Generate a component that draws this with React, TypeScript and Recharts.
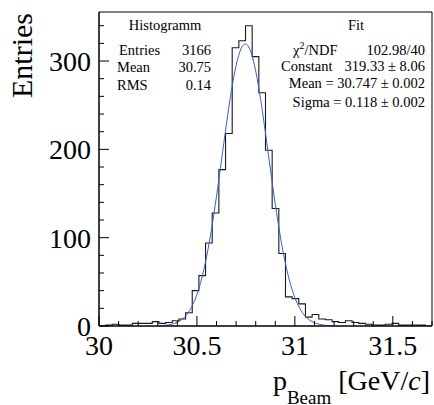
import React from 'react';
import { ComposedChart, Line, XAxis, YAxis, ReferenceArea } from 'recharts';

// histogram: 50 bins of 0.034 GeV/c from 30.0 to 31.7
const binLow = 30;
const binWidth = 0.034;
const binCounts = [
  0, 1, 2, 1, 1, 3, 3, 3, 5, 3,
  4, 6, 8, 15, 40, 57, 94, 128, 177, 218,
  315, 323, 340, 305, 264, 199, 133, 82, 33, 31,
  25, 10, 13, 8, 7, 5, 4, 6, 4, 3,
  2, 1, 1, 2, 3, 1, 1, 1, 1, 0,
];

// gaussian fit curve
const fitX = [
  30.3, 30.325, 30.35, 30.375, 30.4, 30.425, 30.45, 30.475, 30.5, 30.525,
  30.55, 30.575, 30.6, 30.625, 30.65, 30.675, 30.7, 30.725, 30.747, 30.775,
  30.8, 30.825, 30.85, 30.875, 30.9, 30.925, 30.95, 30.975, 31.0, 31.025,
  31.05, 31.075, 31.1, 31.125, 31.15, 31.175, 31.2,
];
const fitY = [
  0.2, 0.5, 1.1, 2.2, 4.2, 7.7, 13.4, 22.4, 35.7, 54.4,
  79.3, 110.4, 147.0, 187.1, 227.8, 265.1, 295.0, 313.8, 319.3, 310.5,
  288.7, 256.6, 218.2, 177.3, 137.8, 102.4, 72.7, 49.4, 32.1, 19.9,
  11.8, 6.7, 3.6, 1.9, 0.9, 0.4, 0.2,
];

const xTicks = [30, 30.1, 30.2, 30.3, 30.4, 30.5, 30.6, 30.7, 30.8, 30.9, 31, 31.1, 31.2, 31.3, 31.4, 31.5, 31.6, 31.7];
const xTickLabels = ['30', '', '', '', '', '30.5', '', '', '', '', '31', '', '', '', '', '31.5', '', ''];
const yTicks = [0, 20, 40, 60, 80, 100, 120, 140, 160, 180, 200, 220, 240, 260, 280, 300, 320, 340];
const yTickLabels = ['0', '', '', '', '', '100', '', '', '', '', '200', '', '', '', '', '300', '', ''];

const xMin = 30;
const xMax = 31.7;
const yMax = 355.5;

const statsLeft = [
  { label: 'Entries', value: '3166' },
  { label: 'Mean', value: '30.75' },
  { label: 'RMS', value: '0.14' },
];

const serif = '"Liberation Serif", "DejaVu Serif", serif';

const histData = binCounts
  .map((n, i) => ({ x: Math.round((binLow + i * binWidth) * 1000) / 1000, n }))
  .concat([{ x: xMax, n: binCounts[binCounts.length - 1] }]);
const fitData = fitX.map((x, i) => ({ x, y: fitY[i] }));

const findIdx = (arr: number[], v: number) => arr.findIndex((t) => Math.abs(t - v) < 1e-6);

const XTick = (props: any) => {
  const { x, y, payload } = props;
  const label = xTickLabels[findIdx(xTicks, payload.value)] || '';
  const major = label !== '';
  return (
    <g>
      <line x1={x} y1={y} x2={x} y2={y - (major ? 10 : 5)} stroke="#000" strokeWidth={1} />
      {major && (
        <text x={x} y={y + 29} textAnchor="middle" fontFamily={serif} fontSize={28} fill="#000">
          {label}
        </text>
      )}
    </g>
  );
};

const YTick = (props: any) => {
  const { x, y, payload } = props;
  const label = yTickLabels[findIdx(yTicks, payload.value)] || '';
  const major = label !== '';
  return (
    <g>
      <line x1={x} y1={y} x2={x + (major ? 10 : 5)} y2={y} stroke="#000" strokeWidth={1} />
      {major && (
        <text x={x - 8} y={y + 10} textAnchor="end" fontFamily={serif} fontSize={28} fill="#000">
          {label}
        </text>
      )}
    </g>
  );
};

export default function App() {
  return (
    <div style={{ position: 'absolute', left: 0, top: 0, width: 434, height: 405, background: '#fff' }}>
      <ComposedChart width={434} height={405} margin={{ top: 12, right: 2, left: 0, bottom: 0 }}>
        <XAxis
          type="number"
          dataKey="x"
          domain={[xMin, xMax]}
          ticks={xTicks}
          interval={0}
          allowDataOverflow
          height={79}
          tickSize={0}
          tickMargin={0}
          tickLine={false}
          axisLine={{ stroke: '#000' }}
          tick={<XTick />}
        />
        <YAxis
          type="number"
          domain={[0, yMax]}
          ticks={yTicks}
          interval={0}
          allowDataOverflow
          width={99}
          tickSize={0}
          tickMargin={0}
          tickLine={false}
          axisLine={{ stroke: '#000' }}
          tick={<YTick />}
        />
        <ReferenceArea x1={xMin} x2={xMax} y1={0} y2={yMax} fill="none" stroke="#000" strokeWidth={1} />
        <Line
          data={histData}
          dataKey="n"
          type="stepAfter"
          stroke="#1a1a1a"
          strokeWidth={1.1}
          dot={false}
          isAnimationActive={false}
        />
        <Line
          data={fitData}
          dataKey="y"
          type="monotone"
          stroke="#3a5fc4"
          strokeWidth={1}
          dot={false}
          isAnimationActive={false}
        />
      </ComposedChart>
      <svg
        width={434}
        height={405}
        style={{ position: 'absolute', left: 0, top: 0, pointerEvents: 'none' }}
        fontFamily={serif}
        fill="#000"
      >
        <text x={32} y={13} textAnchor="end" fontSize={30} transform="rotate(-90, 32, 13)">
          Entries
        </text>
        <text x={430} y={390} textAnchor="end" fontSize={28}>
          p
          <tspan fontSize={19} dy={14}>Beam</tspan>
          <tspan dy={-14}> [GeV/</tspan>
          <tspan fontStyle="italic">c</tspan>
          <tspan>]</tspan>
        </text>

        <g fontSize={14.5}>
          <text x={165} y={30} textAnchor="middle">Histogramm</text>
          {statsLeft.map((s, i) => (
            <g key={s.label}>
              <text x={i === 0 ? 119 : 117} y={54.5 + i * 17.5}>{s.label}</text>
              <text x={211} y={54.5 + i * 17.5} textAnchor="end">{s.value}</text>
            </g>
          ))}

          <text x={356} y={30} textAnchor="middle">Fit</text>
          <text x={293} y={54.5}>
            χ<tspan fontSize={10} dy={-6}>2</tspan>
            <tspan dy={6}>/NDF</tspan>
          </text>
          <text x={425} y={54.5} textAnchor="end">102.98/40</text>
          <text x={281} y={70.5}>Constant</text>
          <text x={425} y={70.5} textAnchor="end">319.33 ± 8.06</text>
          <text x={425} y={88} textAnchor="end">Mean = 30.747 ± 0.002</text>
          <text x={425} y={106.5} textAnchor="end">Sigma = 0.118 ± 0.002</text>
        </g>
      </svg>
    </div>
  );
}
